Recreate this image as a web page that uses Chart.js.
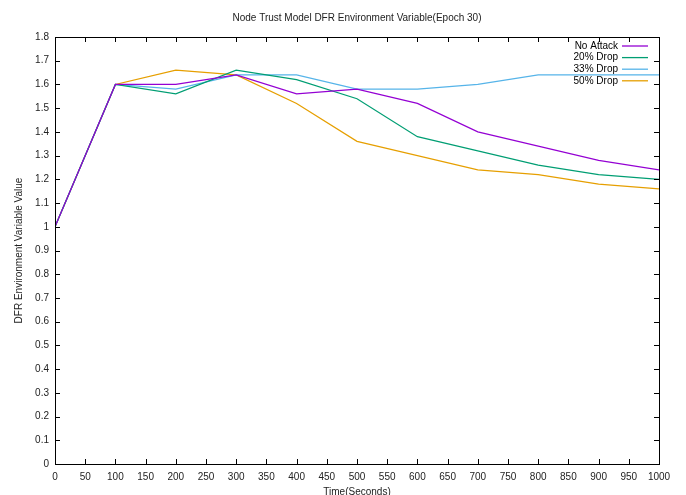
<!DOCTYPE html>
<html>
<head>
<meta charset="utf-8">
<script src="https://cdn.jsdelivr.net/npm/chart.js@4.4.1/dist/chart.umd.min.js"></script>
<style>
  html, body { margin: 0; padding: 0; background: #fff; }
  #wrap { width: 686px; height: 495px; }
</style>
</head>
<body>
<div id="wrap"><canvas id="trustChart" width="686" height="495"></canvas></div>
<script>
const times = [0, 100, 200, 300, 400, 500, 600, 700, 800, 900, 1000];
const noAttack = [1.0, 1.6, 1.6, 1.64, 1.56, 1.58, 1.52, 1.40, 1.34, 1.28, 1.24];
const drop20 = [1.0, 1.6, 1.56, 1.66, 1.62, 1.54, 1.38, 1.32, 1.26, 1.22, 1.20];
const drop33 = [1.0, 1.6, 1.58, 1.64, 1.64, 1.58, 1.58, 1.60, 1.64, 1.64, 1.64];
const drop50 = [1.0, 1.6, 1.66, 1.64, 1.52, 1.36, 1.30, 1.24, 1.22, 1.18, 1.16];
const seriesNames = ['No Attack', '20% Drop', '33% Drop', '50% Drop'];
const seriesColors = ['#9400d3', '#009e73', '#56b4e9', '#e69f00'];
const chartTitle = 'Node Trust Model DFR Environment Variable(Epoch 30)';

const fontFamily = '"Liberation Sans", Arial, sans-serif';

const toPoints = vals => vals.map((v, i) => ({ x: times[i], y: v }));

// gnuplot style: box border, ticks inside on all sides, legend inside top right
const gnuplotFrame = {
    id: 'gnuplotFrame',
    afterDatasetsDraw(chart) {
        const ctx = chart.ctx;
        const area = chart.chartArea;
        const xs = chart.scales.x;
        const ys = chart.scales.y;
        ctx.save();
        ctx.strokeStyle = '#000';
        ctx.lineWidth = 1;
        ctx.beginPath();
        xs.ticks.forEach(t => {
            const px = Math.round(xs.getPixelForValue(t.value)) + 0.5;
            ctx.moveTo(px, area.bottom);
            ctx.lineTo(px, area.bottom - 5);
            ctx.moveTo(px, area.top);
            ctx.lineTo(px, area.top + 5);
        });
        ys.ticks.forEach(t => {
            const py = Math.round(ys.getPixelForValue(t.value)) + 0.5;
            ctx.moveTo(area.left, py);
            ctx.lineTo(area.left + 5, py);
            ctx.moveTo(area.right, py);
            ctx.lineTo(area.right - 5, py);
        });
        ctx.stroke();
        ctx.strokeRect(Math.round(area.left) + 0.5, Math.round(area.top) + 0.5,
            Math.round(area.right - area.left), Math.round(area.bottom - area.top));

        // title centred over the plot area
        ctx.fillStyle = '#222';
        ctx.font = '10px ' + fontFamily;
        ctx.textAlign = 'center';
        ctx.textBaseline = 'middle';
        ctx.fillText(chartTitle, (area.left + area.right) / 2, 18);

        // legend
        ctx.textAlign = 'right';
        chart.data.datasets.forEach((ds, i) => {
            const y = area.top + 9 + i * 11.6;
            ctx.fillStyle = '#000';
            ctx.fillText(ds.label, area.right - 41, y);
            ctx.strokeStyle = ds.borderColor;
            ctx.lineWidth = 1.3;
            ctx.beginPath();
            ctx.moveTo(area.right - 37, y);
            ctx.lineTo(area.right - 11, y);
            ctx.stroke();
        });
        ctx.restore();
    }
};

const ctx = document.getElementById('trustChart').getContext('2d');
new Chart(ctx, {
    type: 'line',
    data: {
        datasets: seriesNames.map((name, i) => ({
            label: name,
            data: toPoints([noAttack, drop20, drop33, drop50][i]),
            borderColor: seriesColors[i],
            backgroundColor: seriesColors[i],
            borderWidth: 1.2,
            pointRadius: 0,
            tension: 0,
            fill: false
        }))
    },
    options: {
        responsive: false,
        animation: false,
        layout: { padding: { left: 13, right: 27, top: 37, bottom: 0 } },
        plugins: {
            legend: { display: false },
            tooltip: { enabled: false },
            title: { display: false }
        },
        scales: {
            x: {
                type: 'linear',
                min: 0,
                max: 1000,
                grid: { display: false, drawTicks: false },
                border: { display: false },
                ticks: {
                    stepSize: 50,
                    color: '#222',
                    padding: 7,
                    maxRotation: 0,
                    autoSkip: false,
                    font: { family: fontFamily, size: 10 },
                    callback: v => String(v)
                },
                title: {
                    display: true,
                    text: 'Time(Seconds)',
                    color: '#222',
                    font: { family: fontFamily, size: 10 },
                    padding: { top: 4, bottom: -3 }
                },
                afterFit: s => { s.height = 31; }
            },
            y: {
                min: 0,
                max: 1.8,
                grid: { display: false, drawTicks: false },
                border: { display: false },
                ticks: {
                    stepSize: 0.1,
                    color: '#222',
                    padding: 6,
                    autoSkip: false,
                    font: { family: fontFamily, size: 10 },
                    callback: v => String(Math.round(v * 10) / 10)
                },
                title: {
                    display: true,
                    text: 'DFR Environment Variable Value',
                    color: '#222',
                    font: { family: fontFamily, size: 10 },
                    padding: { top: 0, bottom: 0 }
                },
                afterFit: s => { s.width = 42; }
            }
        }
    },
    plugins: [gnuplotFrame]
});
</script>
</body>
</html>
